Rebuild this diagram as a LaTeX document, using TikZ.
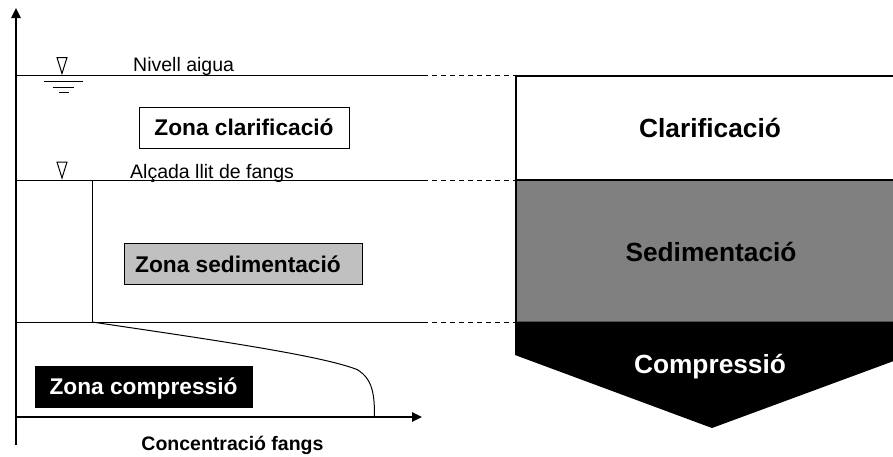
\documentclass[tikz,border=0pt]{standalone}
\usepackage{fontspec}
\setmainfont{Liberation Sans}
\usetikzlibrary{arrows.meta}
\definecolor{sedgray}{HTML}{808080}
\definecolor{boxgray}{HTML}{C0C0C0}
\begin{document}
\begin{tikzpicture}[x=1pt,y=-1pt,
  thinline/.style={line width=1pt},
  axisline/.style={line width=1.6pt,-{Triangle[length=10pt,width=9.5pt]}},
  guide/.style={line width=1pt,dash pattern=on 5pt off 4pt},
  smalllabel/.style={font=\fontsize{19.5}{22}\selectfont,inner sep=0pt},
  zonebox/.style={draw,line width=1pt,inner sep=0pt,minimum height=41pt,
    text height=16.3pt,text depth=0pt,font=\fontsize{22.7}{26}\selectfont\bfseries},
  phaselabel/.style={inner sep=0pt,text height=18.8pt,text depth=0pt,
    font=\fontsize{26.3}{30}\selectfont\bfseries},
  levelmark/.style={line width=1pt}
]
\useasboundingbox (0,0) rectangle (893,456);

% axes
\coordinate (ybot) at (16,445);
\coordinate (ytop) at (16,8);
\coordinate (xleft) at (16,417);
\coordinate (xright) at (422,417);
\draw[axisline] (ybot) -- (ytop);
\draw[axisline] (xleft) -- (xright);

% level lines and their dashed continuations
\coordinate (wl0) at (16,75.5);   \coordinate (wl1) at (423,75.5);  \coordinate (wl2) at (516,75.5);
\coordinate (bl0) at (16,180);    \coordinate (bl1) at (423,180);   \coordinate (bl2) at (516,180);
\coordinate (cl0) at (16,322);    \coordinate (cl1) at (423,322);   \coordinate (cl2) at (516,322);
\draw[thinline] (wl0) -- (wl1);
\draw[thinline] (bl0) -- (bl1);
\draw[thinline] (cl0) -- (cl1);
\draw[guide] (wl1) -- (wl2);
\draw[guide] (bl1) -- (bl2);
\draw[guide] (cl1) -- (cl2);

% water level symbol
\draw[levelmark] (57,57.5) -- (67,57.5) -- (62,73.5) -- cycle;
\draw[levelmark] (44,81.7) -- (83,81.7);
\draw[levelmark] (53,87.3) -- (74,87.3);
\draw[levelmark] (59,92.7) -- (69,92.7);
% sludge blanket symbol
\draw[levelmark] (57,162) -- (67,162) -- (62,178) -- cycle;

% concentration profile
\coordinate (p0) at (92,180);
\coordinate (p1) at (92,322);
\coordinate (p2) at (357,369.5);
\coordinate (p3) at (374.5,417);
\draw[thinline] (p0) -- (p1);
\draw[thinline] (p1) .. controls (200,338) and (320,355) .. (p2)
  .. controls (373,379) and (374.5,395) .. (p3);

% labels
\node[smalllabel,anchor=base west] (nivell) at (133,71) {Nivell aigua};
\node[smalllabel,anchor=base west] (llit) at (130,178) {Alçada llit de fangs};
\node[smalllabel,anchor=base,font=\fontsize{19.5}{22}\selectfont\bfseries] (conc) at (232.5,450) {Concentració fangs};

% zone boxes
\node[zonebox,fill=white,minimum width=210pt] (zclar) at (244,127.5) {Zona clarificació};
\node[zonebox,fill=boxgray,minimum width=238pt] (zsed) at (243,264) {\hspace*{-10pt}Zona sedimentació};
\node[zonebox,fill=black,text=white,draw=black,minimum width=217pt] (zcomp) at (143.5,386.5) {Zona compressió};

% settler column
\begin{scope}
\clip (0,0) rectangle (893,456);
\fill[sedgray] (516,180) rectangle (912,322);
\fill[black] (515,321.5) -- (910,321.5) -- (910,355) -- (712,428) -- (515,355) -- cycle;
\draw[line width=2pt] (516,355) -- (516,75.5) -- (912,75.5);
\draw[line width=1.2pt] (516,180) -- (912,180);
\end{scope}
\node[phaselabel] (clar) at (710,128) {Clarificació};
\node[phaselabel] (sed) at (711,252) {Sedimentació};
\node[phaselabel,text=white] (comp) at (710,364) {Compressió};
\end{tikzpicture}
\end{document}
